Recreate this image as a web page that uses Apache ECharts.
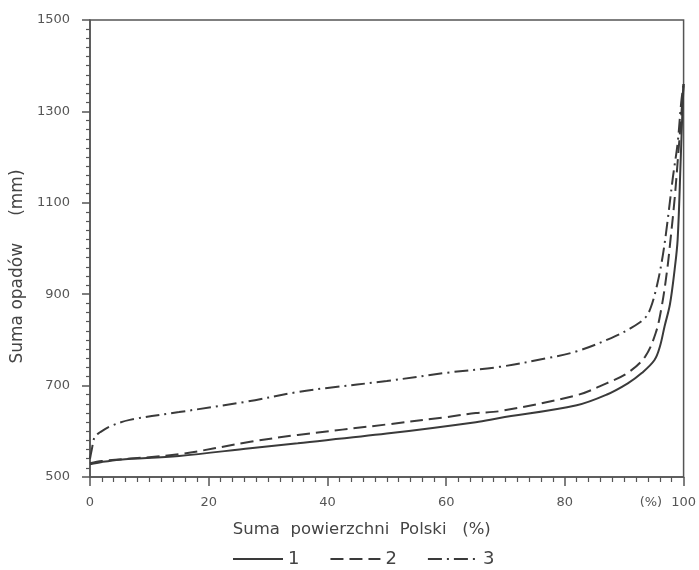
<!DOCTYPE html>
<html>
<head>
<meta charset="utf-8">
<script src="https://cdn.jsdelivr.net/npm/echarts@6/dist/echarts.min.js"></script>
<style>
  html, body { margin: 0; padding: 0; background: #fff; }
  #main { width: 699px; height: 570px; }
</style>
</head>
<body>
<div id="main"></div>
<script>
// powierzchnia (%) i suma opadów (mm) dla trzech krzywych
var area1 = [0, 2, 5, 15, 27, 35, 50, 65, 69, 82, 87, 90.6, 93, 95.1, 96, 96.8, 97.7, 98.5, 99, 99.5, 99.8, 100];
var precip1 = [528, 533, 538, 546, 563, 574, 595, 620, 629, 657, 680, 705, 728, 756, 785, 830, 878, 955, 1020, 1190, 1300, 1360];

var area2 = [0, 2, 15, 27, 35, 50, 60, 65, 69, 82, 87, 90.6, 93.5, 95.3, 96.3, 97.2, 97.8, 98.5, 99, 99.6, 100];
var precip2 = [530, 535, 550, 577, 592, 615, 631, 640, 644, 679, 705, 728, 763, 815, 872, 950, 1020, 1110, 1190, 1290, 1360];

var area3 = [0, 0.3, 0.8, 1.7, 3.4, 6.7, 15, 26, 35, 40, 50, 60, 69, 77, 82, 87.8, 91, 93.5, 94.5, 95.6, 96.5, 97.2, 98.2, 99, 99.6, 100];
var precip3 = [540, 560, 588, 598, 611, 625, 642, 664, 686, 695, 710, 728, 741, 760, 775, 804, 825, 848, 872, 924, 985, 1050, 1156, 1231, 1320, 1360];

var seriesNames = ['1', '2', '3'];
var xTicks = [0, 20, 40, 60, 80, 100];

function zip(xs, ys){
    var out = [];
    for (var i = 0; i < xs.length; i++) {
        out.push([xs[i], ys[i]]);
    }
    return out;
}

var ink = '#3a3a3a';
var myChart = echarts.init(document.getElementById('main'));

function lineSeries(name, data, type){
    return {
        name: name,
        type: 'line',
        data: data,
        symbol: 'none',
        smooth: 0.35,
        lineStyle: { color: ink, width: 2, type: type },
        itemStyle: { color: ink }
    };
}

var option = {
    backgroundColor: '#fff',
    animation: false,
    grid: {
        left: 90, right: 13, top: 20, bottom: 93,
        show: true,
        borderColor: '#555',
        borderWidth: 1.5,
        backgroundColor: 'transparent'
    },
    xAxis: {
        type: 'value',
        min: 0, max: 100, interval: 20,
        name: 'Suma  powierzchni  Polski   (%)',
        nameLocation: 'middle',
        nameGap: 44,
        nameTextStyle: { fontFamily: 'DejaVu Sans', fontSize: 16.5, color: '#444', padding: [0, 50, 0, 0] },
        axisLine: { show: true, lineStyle: { color: '#555', width: 1.5 } },
        axisTick: { show: true, length: 9, lineStyle: { color: '#555', width: 1.5 } },
        minorTick: { show: true, splitNumber: 10, length: 5, lineStyle: { color: '#555', width: 1.2 } },
        splitLine: { show: false },
        axisLabel: {
            fontFamily: 'DejaVu Sans', fontSize: 13, color: '#555', margin: 19,
            formatter: function(v){ return xTicks.indexOf(v) >= 0 ? String(v) : ''; }
        }
    },
    yAxis: {
        type: 'value',
        min: 500, max: 1500, interval: 200,
        name: 'Suma opadów     (mm)',
        nameLocation: 'middle',
        nameGap: 62,
        nameTextStyle: { fontFamily: 'DejaVu Sans', fontSize: 17, color: '#444', padding: [0, 36, 0, 0] },
        axisLine: { show: true, lineStyle: { color: '#555', width: 1.5 } },
        axisTick: { show: true, length: 8, lineStyle: { color: '#555', width: 1.5 } },
        minorTick: { show: true, splitNumber: 10, length: 4, lineStyle: { color: '#555', width: 1.2 } },
        splitLine: { show: false },
        axisLabel: {
            fontFamily: 'DejaVu Sans', fontSize: 13, color: '#555', margin: 20,
            formatter: function(v){ return String(v); }
        }
    },
    legend: {
        data: seriesNames,
        top: 545,
        left: 227,
        itemWidth: 50,
        itemHeight: 12,
        itemGap: 30,
        itemStyle: { opacity: 0 },
        textStyle: { fontFamily: 'DejaVu Sans', fontSize: 18, color: '#444' }
    },
    series: [
        lineSeries(seriesNames[0], zip(area1, precip1), 'solid'),
        lineSeries(seriesNames[1], zip(area2, precip2), [13, 6]),
        lineSeries(seriesNames[2], zip(area3, precip3), [14, 5, 2, 5])
    ]
};
myChart.setOption(option);

// dopisek "(%)" przy osi X, przed etykietą 100
var pctPos = myChart.convertToPixel({ gridIndex: 0 }, [94.5, 500]);
myChart.setOption({
    graphic: [{
        type: 'text',
        x: pctPos[0],
        y: pctPos[1] + 19,
        style: {
            text: '(%)',
            fontFamily: 'DejaVu Sans', fontSize: 13, fill: '#555',
            align: 'center', verticalAlign: 'top'
        }
    }]
});
</script>
</body>
</html>
